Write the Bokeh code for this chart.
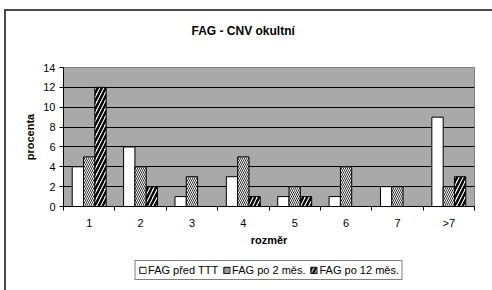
from bokeh.plotting import figure
from bokeh.models import ColumnDataSource, FixedTicker, Legend, LegendItem, Range1d, Label, Title
from bokeh.layouts import column
from bokeh.transform import dodge
from bokeh.embed import file_html
from bokeh.resources import INLINE

categories = ["1", "2", "3", "4", "5", "6", "7", ">7"]
fag_pred_ttt = [4, 6, 1, 3, 1, 1, 2, 9]
fag_po_2 = [5, 4, 3, 5, 2, 4, 2, 2]
fag_po_12 = [12, 2, 0, 1, 1, 0, 0, 3]
y_ticks = [0, 2, 4, 6, 8, 10, 12, 14]
series_names = ["FAG před TTT", "FAG po 2 měs.", "FAG po 12 měs."]
chart_title = "FAG - CNV okultní"
x_title = "rozměr"
y_title = "procenta"

n = len(categories)
xc = [i + 0.5 for i in range(n)]
src = ColumnDataSource(dict(x=xc, a=fag_pred_ttt, b=fag_po_2, c=fag_po_12))
cols = ["a", "b", "c"]

FONT = "Liberation Sans"

styles = [
    dict(fill_color="white", line_color="black", line_width=1),
    dict(fill_color="white", line_color="black", line_width=1,
         hatch_pattern="\\", hatch_scale=4, hatch_weight=1, hatch_color="#303030"),
    dict(fill_color="white", line_color="black", line_width=1,
         hatch_pattern="/", hatch_scale=8, hatch_weight=2.5, hatch_color="black"),
]


def strip(h, xr, yr, **kw):
    f = figure(width=492, height=h, output_backend="svg", toolbar_location=None,
               x_range=xr, y_range=yr,
               x_axis_type=None, y_axis_type=None, min_border=0, title=None, **kw)
    f.outline_line_color = None
    f.background_fill_alpha = 0
    f.border_fill_alpha = 0
    f.grid.visible = False
    return f


# title strip
ts = strip(45, Range1d(0, 1), Range1d(0, 1))
ts.add_layout(Label(x=128, y=15, x_units="screen", y_units="screen", text=chart_title,
                    text_align="left", text_baseline="middle",
                    text_font=FONT, text_font_size="12px", text_font_style="bold",
                    text_color="black"))

# main chart
p = figure(width=492, height=213, output_backend="svg", toolbar_location=None,
           x_range=Range1d(0, n), y_range=Range1d(0, 14),
           min_border_left=63, min_border_right=18, min_border_top=22,
           min_border_bottom=52, title=None)
p.background_fill_color = "#a9a9a9"
p.border_fill_alpha = 0
p.outline_line_color = "#7f7f7f"

bw = 0.22
offsets = [-bw, 0, bw]
for c, off, s in zip(cols, offsets, styles):
    p.vbar(x=dodge("x", off, range=p.x_range), top=c, width=bw, source=src, **s)

p.xgrid.visible = False
p.ygrid.ticker = FixedTicker(ticks=y_ticks)
p.ygrid.grid_line_color = "black"
p.ygrid.grid_line_width = 1

p.xaxis.ticker = FixedTicker(ticks=xc, minor_ticks=list(range(n + 1)))
p.xaxis.major_label_overrides = {x: c for x, c in zip(xc, categories)}
p.xaxis.major_tick_out = 0
p.xaxis.major_tick_in = 0
p.xaxis.minor_tick_out = 4
p.xaxis.minor_tick_in = 0
p.xaxis.minor_tick_line_color = "black"
p.xaxis.major_label_standoff = 6
p.xaxis.axis_label = x_title
p.xaxis.axis_label_standoff = 2

p.yaxis.ticker = FixedTicker(ticks=y_ticks)
p.yaxis.major_tick_out = 4
p.yaxis.major_tick_in = 0
p.yaxis.major_label_standoff = 4

for ax in (p.xaxis, p.yaxis):
    ax.axis_line_color = "black"
    ax.major_tick_line_color = "black"
    ax.major_label_text_font = FONT
    ax.major_label_text_font_size = "11px"
    ax.major_label_text_color = "black"
    ax.axis_label_text_font = FONT
    ax.axis_label_text_font_size = "11px"
    ax.axis_label_text_font_style = "bold"
    ax.axis_label_text_color = "black"

p.add_layout(Title(text=y_title, align="center", standoff=9,
                   text_font=FONT, text_font_size="11px", text_font_style="bold",
                   text_color="black"), "left")

# legend strip below the chart; its proxy bars shrink to a speck hidden under the legend box
lg = strip(32, Range1d(-1000, 1000), Range1d(-1000, 1000),
           min_border_top=0, min_border_bottom=8)
rs = [lg.vbar(x="x", top=c, width=bw, source=src, **s) for c, s in zip(cols, styles)]
legend = Legend(items=[LegendItem(label=name, renderers=[r]) for name, r in zip(series_names, rs)],
                orientation="horizontal", location="center",
                glyph_width=8, glyph_height=8, label_height=9, label_standoff=2,
                spacing=4, padding=3, margin=0,
                label_text_font=FONT, label_text_font_size="11px",
                label_text_color="black",
                border_line_color="black", border_line_width=1,
                background_fill_color="white", background_fill_alpha=1)
lg.add_layout(legend)

layout = column(ts, p, lg, spacing=0)
layout.styles = {
    "background": "linear-gradient(#4a4a4a, #4a4a4a) 4px 9px / 2px 100% no-repeat, "
                  "linear-gradient(#4a4a4a, #4a4a4a) 4px 9px / 100% 2px no-repeat, white"
}

open("out.html", "w").write(file_html(layout, INLINE))
